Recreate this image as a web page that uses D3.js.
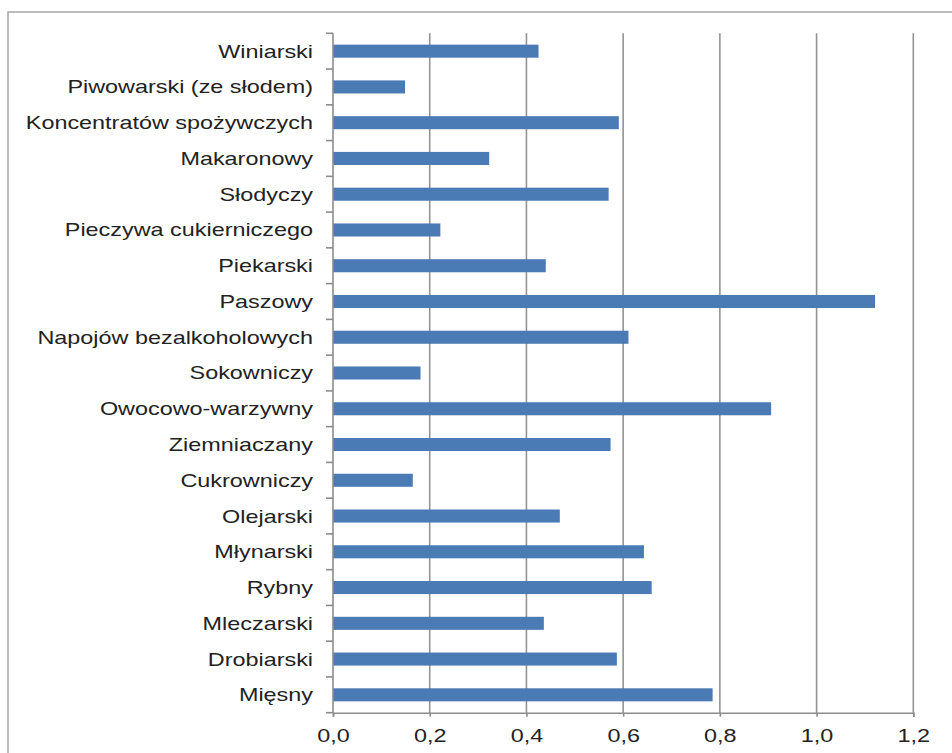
<!DOCTYPE html>
<html>
<head>
<meta charset="utf-8">
<script src="https://cdn.jsdelivr.net/npm/d3@7"></script>
<style>
  body { margin: 0; background: #fff; }
  text { font-family: "Liberation Sans", Arial, sans-serif; fill: #222; }
</style>
</head>
<body>
<div class="container"></div>
<script>
const wd = 952
const ht = 753

// data, top to bottom as in the chart
const branches = ["Winiarski", "Piwowarski (ze słodem)", "Koncentratów spożywczych", "Makaronowy",
  "Słodyczy", "Pieczywa cukierniczego", "Piekarski", "Paszowy", "Napojów bezalkoholowych",
  "Sokowniczy", "Owocowo-warzywny", "Ziemniaczany", "Cukrowniczy", "Olejarski",
  "Młynarski", "Rybny", "Mleczarski", "Drobiarski", "Mięsny"]
const values = [0.425, 0.149, 0.591, 0.323, 0.570, 0.222, 0.440, 1.121, 0.611,
  0.181, 0.906, 0.574, 0.165, 0.469, 0.643, 0.659, 0.436, 0.587, 0.785]
const xTicks = [0, 0.2, 0.4, 0.6, 0.8, 1.0, 1.2]

const plotL = 333, plotR = 913.3, plotT = 33.3, plotB = 712.7
const stretch = 1.3

const svg = d3.select(".container")
  .append("svg")
  .attr("width", wd)
  .attr("height", ht)

// outer frame (runs off the right and bottom edges)
svg.append("rect")
  .attr("x", 8).attr("y", 12)
  .attr("width", 980).attr("height", 780)
  .attr("fill", "none")
  .attr("stroke", "#a0a0a0")
  .attr("stroke-width", 1.4)

const xScale = d3.scaleLinear().domain([0, 1.2]).range([plotL, plotR])
const yScale = d3.scaleBand().domain(branches).range([plotT, plotB])
  .paddingInner(0.635).paddingOuter(0.3175)

// gridlines
svg.append("g")
  .selectAll("line")
  .data(xTicks.slice(1))
  .join("line")
  .attr("x1", d => xScale(d)).attr("x2", d => xScale(d))
  .attr("y1", plotT).attr("y2", plotB)
  .attr("stroke", "#939393")
  .attr("stroke-width", 1.6)

// bars
svg.append("g")
  .selectAll("rect")
  .data(branches)
  .join("rect")
  .attr("x", xScale(0))
  .attr("y", d => yScale(d))
  .attr("width", (d, i) => xScale(values[i]) - xScale(0))
  .attr("height", yScale.bandwidth())
  .attr("fill", "#4a7bb5")

// x axis
const xAxis = svg.append("g")
  .attr("transform", "translate(0," + plotB + ")")
  .call(d3.axisBottom(xScale).tickValues(xTicks).tickSize(4).tickPadding(13)
    .tickFormat(d => d3.format(".1f")(d).replace(".", ",")))
xAxis.select(".domain").attr("stroke", "#8c8c8c").attr("stroke-width", 1.6)
xAxis.selectAll(".tick line").attr("stroke", "#8c8c8c").attr("stroke-width", 1.6)
xAxis.selectAll("text")
  .style("font-size", "18px")
  .attr("fill", "#222")
  .attr("transform", "scale(" + stretch + ",1)")

// y axis: labels at centres, tick marks between categories
const yAxis = svg.append("g")
  .attr("transform", "translate(" + plotL + ",0)")
  .call(d3.axisLeft(yScale).tickSize(0).tickPadding(20 / stretch))
yAxis.select(".domain").remove()
yAxis.selectAll("text")
  .style("font-size", "18px")
  .attr("fill", "#222")
  .attr("dy", "0.36em")
  .attr("transform", "scale(" + stretch + ",1)")
  .attr("x", -20 / stretch)

yAxis.append("line")
  .attr("x1", 0).attr("x2", 0)
  .attr("y1", plotT).attr("y2", plotB)
  .attr("stroke", "#8c8c8c").attr("stroke-width", 1.6)

yAxis.selectAll(".sep")
  .data(d3.range(branches.length + 1))
  .join("line")
  .attr("class", "sep")
  .attr("x1", -7).attr("x2", 0)
  .attr("y1", i => plotT + i * yScale.step())
  .attr("y2", i => plotT + i * yScale.step())
  .attr("stroke", "#8c8c8c").attr("stroke-width", 1.6)
</script>
</body>
</html>
